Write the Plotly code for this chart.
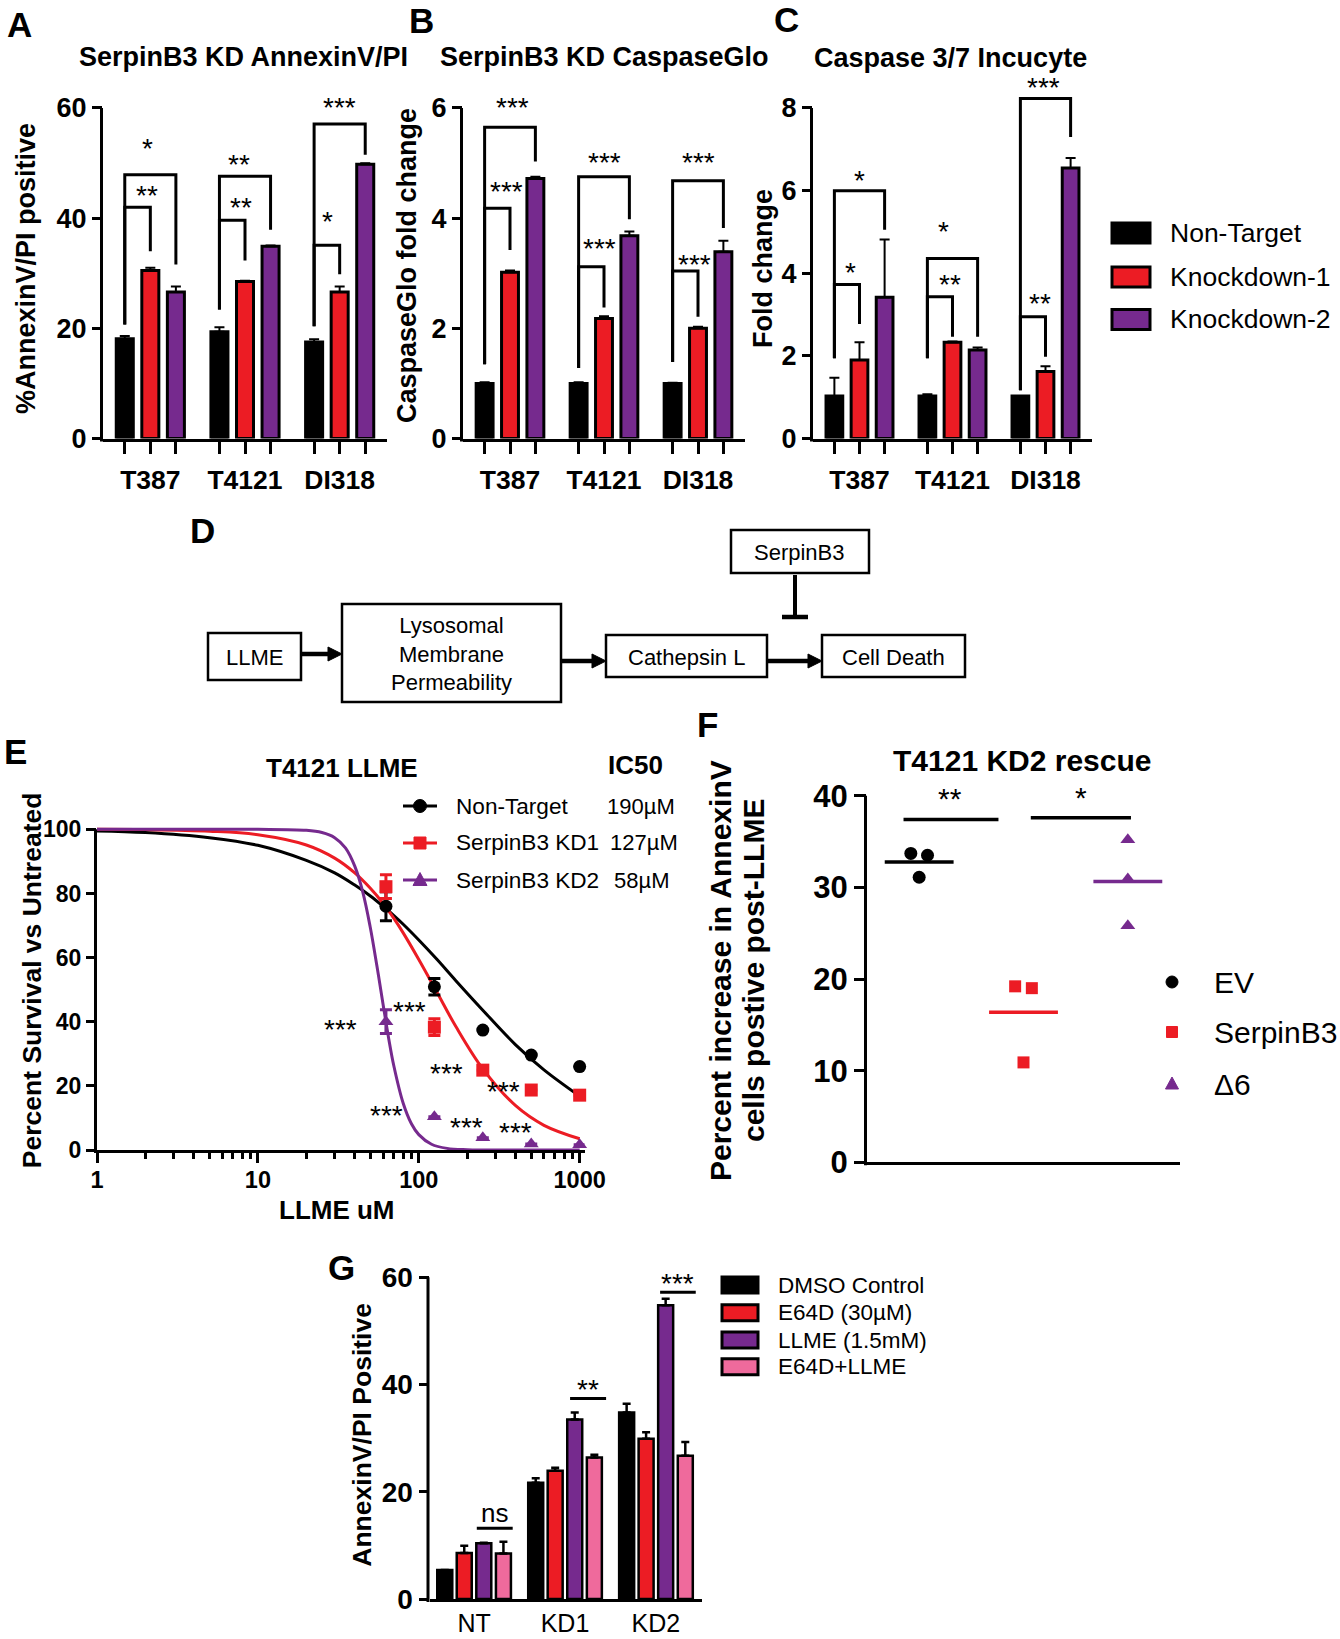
import numpy as np
import plotly.graph_objects as go

W, H = 1340, 1639
FONT = "Arial, Liberation Sans, Helvetica, sans-serif"
BLACK, RED, PURPLE, PINK = "#000000", "#EC1C24", "#762A8E", "#EF6A9C"

# ------------------------------------------------------------------ data
cell_lines = ["T387", "T4121", "DI318"]
kd_names = ["Non-Target", "Knockdown-1", "Knockdown-2"]

# A: SerpinB3 KD AnnexinV/PI (% positive)
annexin_nt = [18.1, 19.4, 17.5]
annexin_kd1 = [30.5, 28.5, 26.6]
annexin_kd2 = [26.6, 34.9, 49.8]
annexin_nt_err = [0.5, 0.8, 0.5]
annexin_kd1_err = [0.5, 0.15, 1.0]
annexin_kd2_err = [1.0, 0.15, 0.15]

# B: SerpinB3 KD CaspaseGlo (fold change)
caspglo_nt = [1.0, 1.0, 1.0]
caspglo_kd1 = [3.02, 2.18, 2.0]
caspglo_kd2 = [4.72, 3.68, 3.39]
caspglo_nt_err = [0.02, 0.02, 0.01]
caspglo_kd1_err = [0.03, 0.04, 0.03]
caspglo_kd2_err = [0.03, 0.08, 0.2]

# C: Caspase 3/7 Incucyte (fold change)
incucyte_nt = [1.03, 1.03, 1.03]
incucyte_kd1 = [1.9, 2.33, 1.62]
incucyte_kd2 = [3.42, 2.14, 6.55]
incucyte_nt_err = [0.44, 0.04, 0.0]
incucyte_kd1_err = [0.43, 0.02, 0.13]
incucyte_kd2_err = [1.4, 0.06, 0.24]

# significance brackets: (group, from, to, top, left end, right end, label, label dx, label y)
sig_annexin = [
    (0, 0, 1, 42.0, 20.7, 34.0, "**", -0.03, 45.2),
    (0, 0, 2, 47.9, 20.7, 31.6, "*", -0.03, 53.7),
    (1, 0, 1, 39.6, 23.4, 32.3, "**", -0.04, 43.1),
    (1, 0, 2, 47.6, 23.4, 37.9, "**", -0.06, 50.9),
    (2, 0, 1, 35.1, 20.4, 29.8, "*", -0.13, 40.4),
    (2, 0, 2, 57.1, 20.4, 51.5, "***", 0.0, 61.2),
]
sig_caspglo = [
    (0, 0, 1, 4.18, 1.35, 3.42, "***", -0.04, 4.6),
    (0, 0, 2, 5.65, 1.35, 5.03, "***", 0.03, 6.12),
    (1, 0, 1, 3.12, 1.28, 2.38, "***", -0.05, 3.56),
    (1, 0, 2, 4.75, 1.28, 3.98, "***", 0.0, 5.12),
    (2, 0, 1, 3.04, 1.39, 2.21, "***", -0.04, 3.27),
    (2, 0, 2, 4.68, 1.39, 3.82, "***", 0.0, 5.12),
]
sig_incucyte = [
    (0, 0, 1, 3.73, 1.94, 2.77, "*", -0.1, 4.16),
    (0, 0, 2, 6.0, 1.94, 5.05, "*", 0.0, 6.38),
    (1, 0, 1, 3.43, 1.94, 2.46, "**", -0.03, 3.88),
    (1, 0, 2, 4.36, 1.94, 2.46, "*", -0.1, 5.16),
    (2, 0, 1, 2.95, 1.17, 1.98, "**", -0.06, 3.41),
    (2, 0, 2, 8.23, 1.17, 7.3, "***", -0.02, 8.65),
]

# D: pathway diagram labels
d_nodes = ["LLME", "Lysosomal<br>Membrane<br>Permeability", "Cathepsin L", "Cell Death", "SerpinB3"]

# E: T4121 LLME dose response
e_names = ["Non-Target", "SerpinB3 KD1", "SerpinB3 KD2"]
e_ic50 = ["190µM", "127µM", "58µM"]
e_doses = [62.5, 125, 250, 500, 1000]
e_nt = [76.0, 50.9, 37.4, 29.6, 26.0]
e_kd1 = [82.1, 38.3, 24.9, 18.7, 17.1]
e_kd2 = [40.0, 10.4, 3.8, 1.9, 1.6]
e_nt_err = [4.5, 2.6, 0, 0, 0]
e_kd1_err = [3.7, 2.6, 0, 0, 0]
e_kd2_err = [3.7, 0, 0, 0, 0]
# fitted curves
e_fit_x = [1, 2, 5, 10, 20, 30, 40, 50, 60, 70, 80, 100, 130, 170, 250, 400, 600, 1000]
e_fit_nt = [99.5, 99.0, 97.4, 95.0, 90.3, 86.4, 82.6, 79.2, 76.0, 73.1, 70.4, 65.5, 59.4, 52.8, 43.6, 32.8, 25.0, 16.8]
e_fit_kd1 = [100.0, 99.9, 99.4, 98.3, 95.1, 91.0, 86.4, 81.6, 76.9, 72.2, 67.7, 59.4, 49.1, 38.5, 25.3, 13.8, 7.7, 3.5]
e_fit_x2 = [1, 5, 10, 20, 25, 30, 35, 40, 45, 50, 55, 60, 65, 70, 80, 90, 100, 120, 150, 200, 400, 1000]
e_fit_kd2 = [100, 100, 100, 99.7, 99.0, 97.4, 94.2, 88.5, 80.2, 69.3, 57.2, 45.4, 34.8, 26.2, 14.6, 8.2, 4.8, 1.8, 0.5, 0.1, 0.0, 0.0]
# significance labels (dose, % survival)
e_sig = [(32.4, 39.5), (87.7, 45.2), (63.4, 12.5), (149, 25.7), (198, 8.8),
         (334, 20.1), (398, 7.3), (1585, 17.1), (1600, 5.7)]

# F: T4121 KD2 rescue
f_groups = ["EV", "SerpinB3", "Δ6"]
f_ev = [33.7, 33.5, 31.1]
f_serpin = [19.2, 19.0, 10.9]
f_d6 = [35.2, 30.9, 25.8]
f_sig = [(0.35, 1.26, 37.4, "**", 0.8, 40.3), (1.57, 2.53, 37.6, "*", 2.05, 40.5)]

# G: AnnexinV/PI with E64D / LLME
g_groups = ["NT", "KD1", "KD2"]
g_names = ["DMSO Control", "E64D (30µM)", "LLME (1.5mM)", "E64D+LLME"]
g_dmso = [5.4, 21.7, 34.8]
g_e64d = [8.6, 23.9, 29.9]
g_llme = [10.4, 33.5, 54.8]
g_combo = [8.5, 26.4, 26.7]
g_dmso_err = [0.0, 0.8, 1.6]
g_e64d_err = [1.35, 0.6, 1.2]
g_llme_err = [0.1, 1.3, 1.2]
g_combo_err = [2.2, 0.5, 2.6]
g_sig = [(0.52, 0.915, 13.2, "ns", 0.72, 15.7), (1.546, 1.942, 37.4, "**", 1.747, 40.2),
         (2.536, 2.928, 57.2, "***", 2.73, 60.0)]

# ------------------------------------------------------------------ helpers
def P(px):
    return px / W


def Q(py):
    return 1 - py / H


fig = go.Figure()
layout = dict(width=W, height=H, autosize=False,
              margin=dict(l=0, r=0, t=0, b=0, pad=0, autoexpand=False),
              paper_bgcolor="white", plot_bgcolor="white", showlegend=False, barmode="overlay",
              font=dict(family=FONT, color=BLACK))
shapes, annots = [], []


def text(px, py, s, size, angle=0, xanchor="center", yanchor="middle"):
    annots.append(dict(x=P(px), y=Q(py), xref="paper", yref="paper", text=s, showarrow=False,
                       textangle=angle, xanchor=xanchor, yanchor=yanchor,
                       font=dict(family=FONT, size=size, color=BLACK)))


def prect(x0, y0, x1, y1, fill="rgba(0,0,0,0)", lw=3):
    shapes.append(dict(type="rect", xref="paper", yref="paper", x0=P(x0), x1=P(x1), y0=Q(y1), y1=Q(y0),
                       fillcolor=fill, line=dict(color=BLACK, width=lw)))


def pline(x0, y0, x1, y1, lw=3, color=BLACK):
    shapes.append(dict(type="line", xref="paper", yref="paper", x0=P(x0), x1=P(x1), y0=Q(y0), y1=Q(y1),
                       line=dict(color=color, width=lw)))


def refs(n):
    return ("x", "y", "xaxis", "yaxis") if n == 1 else ("x%d" % n, "y%d" % n, "xaxis%d" % n, "yaxis%d" % n)


def tf(size, bold=True):
    return dict(family=FONT, size=size, color=BLACK, weight="bold" if bold else "normal")


def y_axis(yk, xa, xdom_left, ybot, ytop_tick, ymax_tick, yext, yticks, size, ticklen=10):
    """y axis whose drawn line stops at the top tick while the range extends above it."""
    pxu = (ybot - ytop_tick) / ymax_tick
    ytop = ybot - yext * pxu
    layout[yk] = dict(domain=[Q(ybot), Q(ytop)], range=[0, yext], anchor=xa, showline=False, ticks="outside",
                      ticklen=ticklen, tickwidth=3, tickcolor=BLACK, tickmode="array", tickvals=yticks,
                      tickfont=tf(size), showgrid=False, zeroline=False, fixedrange=True, automargin=False)
    pline(xdom_left - 1.5, ybot + 3, xdom_left - 1.5, ytop_tick)


GROUP_C = [0.5, 1.5, 2.5]
OFF3 = [-0.27, 0.0, 0.27]


def bar_panel(n, xdom, ybot, ytop_tick, ymax_tick, yext, yticks, vals, errs, sigs):
    xa, ya, xk, yk = refs(n)
    colors = [BLACK, RED, PURPLE]
    for k in range(3):
        fig.add_trace(go.Bar(x=[g + OFF3[k] for g in GROUP_C], y=vals[k], width=0.18,
                             marker=dict(color=colors[k], line=dict(color=BLACK, width=3)),
                             error_y=dict(type="data", symmetric=False, array=errs[k], arrayminus=[0, 0, 0],
                                          color=BLACK, thickness=2, width=5),
                             xaxis=xa, yaxis=ya, hoverinfo="skip"))
    tickvals = [g + o for g in GROUP_C for o in OFF3]
    ticktext = [c if o == 0 else "" for c in cell_lines for o in OFF3]
    layout[xk] = dict(domain=[P(xdom[0]), P(xdom[1])], range=[0, 3], anchor=ya, showline=True, linewidth=3,
                      linecolor=BLACK, ticks="outside", ticklen=12, tickwidth=3, tickcolor=BLACK,
                      tickmode="array", tickvals=tickvals, ticktext=ticktext, tickfont=tf(26.5),
                      ticklabelstandoff=4, showgrid=False, zeroline=False, fixedrange=True, automargin=False)
    y_axis(yk, xa, xdom[0], ybot, ytop_tick, ymax_tick, yext, yticks, 27)
    for (g, s0, s1, top, le, re, lab, ldx, ly) in sigs:
        x0 = GROUP_C[g] + OFF3[s0]
        x1 = GROUP_C[g] + OFF3[s1]
        shapes.append(dict(type="path", xref=xa, yref=ya, fillcolor="rgba(0,0,0,0)",
                           path="M %f,%f L %f,%f L %f,%f L %f,%f" % (x0, le, x0, top, x1, top, x1, re),
                           line=dict(color=BLACK, width=3)))
        annots.append(dict(x=GROUP_C[g] + ldx, y=ly, xref=xa, yref=ya, text=lab, showarrow=False, yshift=-6,
                           font=dict(family=FONT, size=28, color=BLACK)))


# ------------------------------------------------------------------ A, B, C
bar_panel(1, (103, 387), 438.5, 108, 60, 65, [0, 20, 40, 60],
          [annexin_nt, annexin_kd1, annexin_kd2], [annexin_nt_err, annexin_kd1_err, annexin_kd2_err], sig_annexin)
bar_panel(2, (463, 745), 438.5, 108, 6, 6.5, [0, 2, 4, 6],
          [caspglo_nt, caspglo_kd1, caspglo_kd2], [caspglo_nt_err, caspglo_kd1_err, caspglo_kd2_err], sig_caspglo)
bar_panel(3, (813, 1092), 438.5, 108, 8, 9.0, [0, 2, 4, 6, 8],
          [incucyte_nt, incucyte_kd1, incucyte_kd2], [incucyte_nt_err, incucyte_kd1_err, incucyte_kd2_err],
          sig_incucyte)

text(243.5, 57, "<b>SerpinB3 KD AnnexinV/PI</b>", 27)
text(604, 57, "<b>SerpinB3 KD CaspaseGlo</b>", 27)
text(950, 58, "<b>Caspase 3/7 Incucyte</b>", 27)
text(26, 269, "<b>%AnnexinV/PI positive</b>", 27, angle=-90)
text(407, 266, "<b>CaspaseGlo fold change</b>", 27, angle=-90)
text(763, 269, "<b>Fold change</b>", 27, angle=-90)

for k, (nm, col) in enumerate(zip(kd_names, [BLACK, RED, PURPLE])):
    yc = [233, 277, 319.5][k]
    prect(1112, yc - 10, 1150, yc + 10, fill=col)
    text(1168, yc, nm, 26.5, xanchor="left")

# ------------------------------------------------------------------ D diagram
boxes = [(208, 633, 301, 680), (342, 604, 561, 702), (606, 635, 767, 677), (822, 635, 965, 677),
         (731, 530, 869, 573)]
for lab, (x0, y0, x1, y1) in zip(d_nodes, boxes):
    prect(x0, y0, x1, y1, lw=2.5)
    text((x0 + x1) / 2, (y0 + y1) / 2 + 1, lab, 22)

for (xt, xh, yy) in [(301, 342, 654), (561, 606, 661), (767, 822, 661)]:
    pline(xt, yy, xh - 10, yy, lw=4.5)
    shapes.append(dict(type="path", xref="paper", yref="paper", fillcolor=BLACK, line=dict(color=BLACK, width=1),
                       path="M %f,%f L %f,%f L %f,%f Z" % (P(xh), Q(yy), P(xh - 14), Q(yy - 7), P(xh - 14), Q(yy + 7))))
pline(795, 575, 795, 617, lw=4)
pline(782, 617, 808, 617, lw=4.5)

# ------------------------------------------------------------------ E dose response
xa, ya, xk, yk = refs(4)
layout[xk] = dict(type="log", domain=[P(97), P(584.5)], range=[0, 3.03], anchor=ya, showline=True, linewidth=3,
                  linecolor=BLACK, ticks="outside", ticklen=10, tickwidth=3, tickcolor=BLACK, tickmode="array",
                  tickvals=[1, 10, 100, 1000], ticktext=["1", "10", "100", "1000"], tickfont=tf(23.5),
                  ticklabelstandoff=-3,
                  minor=dict(ticks="outside", ticklen=6, tickwidth=2.5, tickcolor=BLACK, tickmode="array",
                             tickvals=[m * 10 ** d for d in range(3) for m in range(2, 10)], showgrid=False),
                  showgrid=False, zeroline=False, fixedrange=True, automargin=False)
y_axis(yk, xa, 97, 1150, 829.3, 100, 104, [0, 20, 40, 60, 80, 100], 23)

for fx, fy, col in [(e_fit_x, e_fit_nt, BLACK), (e_fit_x, e_fit_kd1, RED), (e_fit_x2, e_fit_kd2, PURPLE)]:
    fig.add_trace(go.Scatter(x=fx, y=fy, mode="lines", line=dict(color=col, width=3, shape="spline"),
                             xaxis=xa, yaxis=ya, hoverinfo="skip"))
for vals, errs, col, sym in [(e_nt, e_nt_err, BLACK, "circle"), (e_kd1, e_kd1_err, RED, "square"),
                             (e_kd2, e_kd2_err, PURPLE, "triangle-up")]:
    fig.add_trace(go.Scatter(x=e_doses, y=vals, mode="markers", cliponaxis=False,
                             marker=dict(color=col, size=13, symbol=sym),
                             error_y=dict(type="data", array=errs, color=col, thickness=3, width=6),
                             xaxis=xa, yaxis=ya, hoverinfo="skip"))
for (dx, dy) in e_sig:
    annots.append(dict(x=np.log10(dx), y=dy, xref=xa, yref=ya, text="***", showarrow=False, yshift=-6,
                       font=dict(family=FONT, size=28, color=BLACK)))

text(341.5, 768, "<b>T4121 LLME</b>", 26)
text(635, 765, "<b>IC50</b>", 26)
text(31.7, 980.5, "<b>Percent Survival vs Untreated</b>", 26.5, angle=-90)
text(337, 1210, "<b>LLME uM</b>", 26)
for k, col in enumerate([BLACK, RED, PURPLE]):
    yc = [806, 843, 880][k]
    pline(403, yc, 437, yc, lw=3, color=col)
    if k == 0:
        shapes.append(dict(type="circle", xref="paper", yref="paper", x0=P(413.5), x1=P(426.5),
                           y0=Q(yc + 6.5), y1=Q(yc - 6.5), fillcolor=col, line=dict(color=col, width=1)))
    elif k == 1:
        shapes.append(dict(type="rect", xref="paper", yref="paper", x0=P(414), x1=P(426),
                           y0=Q(yc + 6), y1=Q(yc - 6), fillcolor=col, line=dict(color=col, width=1)))
    else:
        shapes.append(dict(type="path", xref="paper", yref="paper", fillcolor=col, line=dict(color=col, width=1),
                           path="M %f,%f L %f,%f L %f,%f Z" % (P(420), Q(yc - 7.5), P(413), Q(yc + 5.5),
                                                               P(427), Q(yc + 5.5))))
    text(454, yc, e_names[k], 22.6, xanchor="left")
    text([605, 608, 612][k], yc, e_ic50[k], 22.0, xanchor="left")

# ------------------------------------------------------------------ F rescue scatter
xa, ya, xk, yk = refs(5)
layout[xk] = dict(domain=[P(867), P(1180)], range=[0, 3], anchor=ya, showline=True, linewidth=3, linecolor=BLACK,
                  ticks="", showticklabels=False, showgrid=False, zeroline=False, fixedrange=True, automargin=False)
y_axis(yk, xa, 867, 1162.3, 795.7, 40, 43, [0, 10, 20, 30, 40], 31, ticklen=12)
f_jitter = [[-0.08, 0.08, 0.0], [-0.08, 0.08, 0.0], [0.0, 0.0, 0.0]]
for gi, (vals, col, sym, sz) in enumerate([(f_ev, BLACK, "circle", 13), (f_serpin, RED, "square", 12),
                                           (f_d6, PURPLE, "triangle-up", 13)]):
    c = GROUP_C[gi]
    m = float(np.mean(vals))
    fig.add_trace(go.Scatter(x=[c - 0.33, c + 0.33], y=[m, m], mode="lines", line=dict(color=col, width=3.5),
                             xaxis=xa, yaxis=ya, hoverinfo="skip"))
    fig.add_trace(go.Scatter(x=[c + j for j in f_jitter[gi]], y=vals, mode="markers", cliponaxis=False,
                             marker=dict(color=col, size=sz, symbol=sym), xaxis=xa, yaxis=ya, hoverinfo="skip"))
for (x0, x1, yy, lab, lx, ly) in f_sig:
    shapes.append(dict(type="line", xref=xa, yref=ya, x0=x0, x1=x1, y0=yy, y1=yy, line=dict(color=BLACK, width=3.5)))
    annots.append(dict(x=lx, y=ly, xref=xa, yref=ya, text=lab, showarrow=False, yshift=-6,
                       font=dict(family=FONT, size=30, color=BLACK)))
text(1022, 760, "<b>T4121 KD2 rescue</b>", 30)
text(720, 971, "<b>Percent increase in AnnexinV</b>", 30, angle=-90)
text(753, 970, "<b>cells postive post-LLME</b>", 30, angle=-90)
for k, col in enumerate([BLACK, RED, PURPLE]):
    yc = [982, 1032, 1084][k]
    if k == 0:
        shapes.append(dict(type="circle", xref="paper", yref="paper", x0=P(1166), x1=P(1178),
                           y0=Q(yc + 6), y1=Q(yc - 6), fillcolor=col, line=dict(color=col, width=1)))
    elif k == 1:
        shapes.append(dict(type="rect", xref="paper", yref="paper", x0=P(1166.5), x1=P(1177.5),
                           y0=Q(yc + 5.5), y1=Q(yc - 5.5), fillcolor=col, line=dict(color=col, width=1)))
    else:
        shapes.append(dict(type="path", xref="paper", yref="paper", fillcolor=col, line=dict(color=col, width=1),
                           path="M %f,%f L %f,%f L %f,%f Z" % (P(1172), Q(yc - 7), P(1165.5), Q(yc + 5),
                                                               P(1178.5), Q(yc + 5))))
    text(1212, yc, f_groups[k], 30, xanchor="left")

# ------------------------------------------------------------------ G bars
xa, ya, xk, yk = refs(6)
G_C = [0.49, 1.49, 2.49]
OFF4 = [-0.322, -0.108, 0.107, 0.323]
for k, (vals, errs, col) in enumerate([(g_dmso, g_dmso_err, BLACK), (g_e64d, g_e64d_err, RED),
                                       (g_llme, g_llme_err, PURPLE), (g_combo, g_combo_err, PINK)]):
    fig.add_trace(go.Bar(x=[c + OFF4[k] for c in G_C], y=vals, width=0.165,
                         marker=dict(color=col, line=dict(color=BLACK, width=2.5)),
                         error_y=dict(type="data", symmetric=False, array=errs, arrayminus=[0, 0, 0],
                                      color=BLACK, thickness=2.5, width=4),
                         xaxis=xa, yaxis=ya, hoverinfo="skip"))
layout[xk] = dict(domain=[P(429.5), P(702.3)], range=[0, 3], anchor=ya, showline=True, linewidth=3,
                  linecolor=BLACK, ticks="", tickmode="array", tickvals=G_C, ticktext=g_groups,
                  tickfont=tf(25, bold=False), ticklabelstandoff=0, showgrid=False, zeroline=False,
                  fixedrange=True, automargin=False)
y_axis(yk, xa, 429.5, 1599, 1277.3, 60, 63, [0, 20, 40, 60], 28)
for (x0, x1, yy, lab, lx, ly) in g_sig:
    shapes.append(dict(type="line", xref=xa, yref=ya, x0=x0, x1=x1, y0=yy, y1=yy, line=dict(color=BLACK, width=3)))
    annots.append(dict(x=lx, y=ly, xref=xa, yref=ya, text=lab, showarrow=False, yshift=(2 if lab == "ns" else -6),
                       font=dict(family=FONT, size=(26 if lab == "ns" else 28), color=BLACK)))
text(361.7, 1435, "<b>AnnexinV/PI Positive</b>", 26.5, angle=-90)
for k, col in enumerate([BLACK, RED, PURPLE, PINK]):
    yc = [1285, 1312.7, 1340, 1366.7][k]
    prect(722, yc - 8, 758, yc + 8, fill=col)
    text(776, yc, g_names[k], 22.5, xanchor="left")

# ------------------------------------------------------------------ panel letters
for lab, (px, py) in zip("ABCDEFG", [(19, 25), (422, 20), (786, 19), (202, 531), (15, 752), (707, 724),
                                     (341, 1267)]):
    text(px, py, "<b>%s</b>" % lab, 35)

layout["shapes"] = shapes
layout["annotations"] = annots
fig.update_layout(**layout)
fig.write_html("out.html", config={"displayModeBar": False, "responsive": False},
               post_script="document.body.style.margin='0px';document.body.style.overflow='hidden';")
